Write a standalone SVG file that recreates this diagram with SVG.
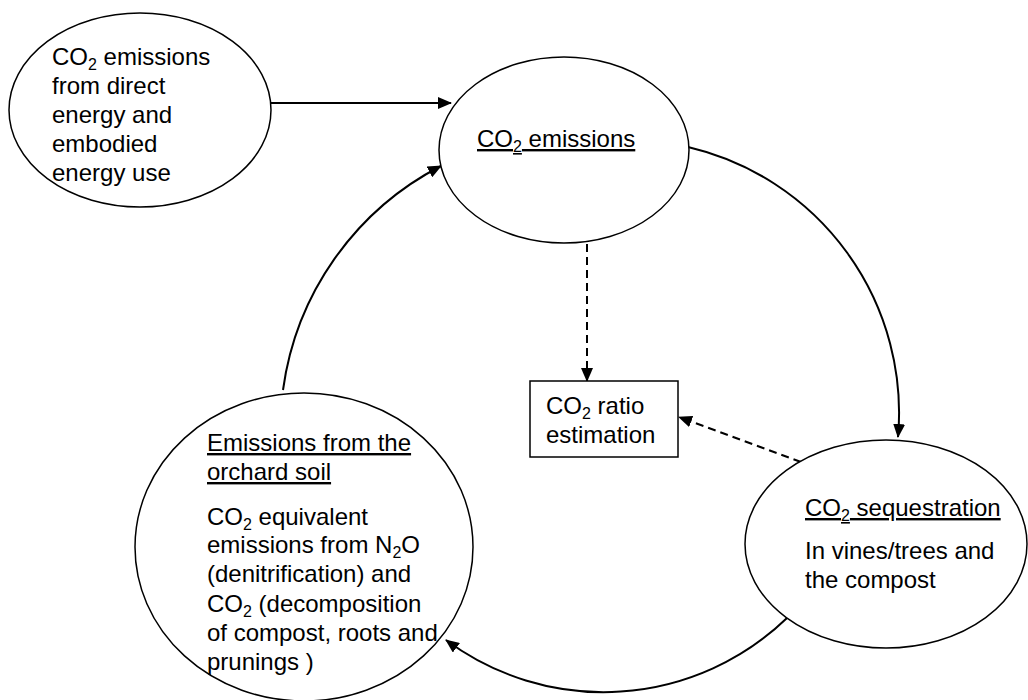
<svg xmlns="http://www.w3.org/2000/svg" width="1028" height="700" viewBox="0 0 1028 700">
  <style>
    .shape { fill: #ffffff; stroke: #000000; stroke-width: 1.5; }
    .lbl { font-family: "Liberation Sans", Arial, sans-serif; font-size: 24px; fill: #000000; }
    .sub { font-size: 16px; }
    .ul { text-decoration: underline; }
    .edge { fill: none; stroke: #000000; stroke-width: 2; }
    .dash { stroke-dasharray: 8 5; }
  </style>
  <defs>
    <marker id="arrow" markerUnits="userSpaceOnUse" markerWidth="14" markerHeight="12" refX="13" refY="6" orient="auto">
      <path d="M0,0 L14,6 L0,12 Z" fill="#000000"/>
    </marker>
  </defs>

  <rect width="1028" height="700" fill="#ffffff"/>

  <!-- connectors -->
  <g id="connectors">
    <line class="edge" x1="271" y1="103" x2="451" y2="103" marker-end="url(#arrow)"/>
    <path class="edge" d="M688,147 A273,273 0 0 1 898,437" marker-end="url(#arrow)"/>
    <path class="edge" d="M787,618 A264,264 0 0 1 446,640" marker-end="url(#arrow)"/>
    <path class="edge" d="M283,390 A297,297 0 0 1 441,166" marker-end="url(#arrow)"/>
    <line class="edge dash" x1="587" y1="244" x2="587" y2="381" marker-end="url(#arrow)"/>
    <line class="edge dash" x1="801" y1="462" x2="679" y2="417" marker-end="url(#arrow)"/>
  </g>

  <!-- energy use source -->
  <g id="node-energy">
    <ellipse class="shape" cx="140" cy="110" rx="131" ry="97"/>
    <text class="lbl" x="52" y="65">CO<tspan class="sub" dy="5">2</tspan><tspan dy="-5"> emissions</tspan></text>
    <text class="lbl" x="52" y="94">from direct</text>
    <text class="lbl" x="52" y="123">energy and</text>
    <text class="lbl" x="52" y="152">embodied</text>
    <text class="lbl" x="52" y="181">energy use</text>
  </g>

  <!-- emissions hub -->
  <g id="node-emissions">
    <ellipse class="shape" cx="564" cy="150" rx="125" ry="93"/>
    <text class="lbl ul" x="477" y="147">CO<tspan class="sub" dy="5">2</tspan><tspan dy="-5"> emissions</tspan></text>
  </g>

  <!-- ratio box -->
  <g id="node-ratio">
    <rect class="shape" x="530" y="381" width="148" height="76"/>
    <text class="lbl" x="546" y="414">CO<tspan class="sub" dy="5">2</tspan><tspan dy="-5"> ratio</tspan></text>
    <text class="lbl" x="546" y="443">estimation</text>
  </g>

  <!-- sequestration -->
  <g id="node-sequestration">
    <ellipse class="shape" cx="886" cy="544" rx="141" ry="104"/>
    <text class="lbl ul" x="805" y="516">CO<tspan class="sub" dy="5">2</tspan><tspan dy="-5"> sequestration</tspan></text>
    <text class="lbl" x="805" y="559">In vines/trees and</text>
    <text class="lbl" x="805" y="588">the compost</text>
  </g>

  <!-- orchard soil -->
  <g id="node-soil">
    <ellipse class="shape" cx="304" cy="547" rx="169" ry="154"/>
    <text class="lbl ul" x="207" y="451">Emissions from the</text>
    <text class="lbl ul" x="207" y="480">orchard soil</text>
    <text class="lbl" x="207" y="525">CO<tspan class="sub" dy="5">2</tspan><tspan dy="-5"> equivalent</tspan></text>
    <text class="lbl" x="207" y="553">emissions from N<tspan class="sub" dy="5">2</tspan><tspan dy="-5">O</tspan></text>
    <text class="lbl" x="207" y="582">(denitrification) and</text>
    <text class="lbl" x="207" y="612">CO<tspan class="sub" dy="5">2</tspan><tspan dy="-5"> (decomposition</tspan></text>
    <text class="lbl" x="207" y="641">of compost, roots and</text>
    <text class="lbl" x="207" y="670">prunings )</text>
  </g>
</svg>
